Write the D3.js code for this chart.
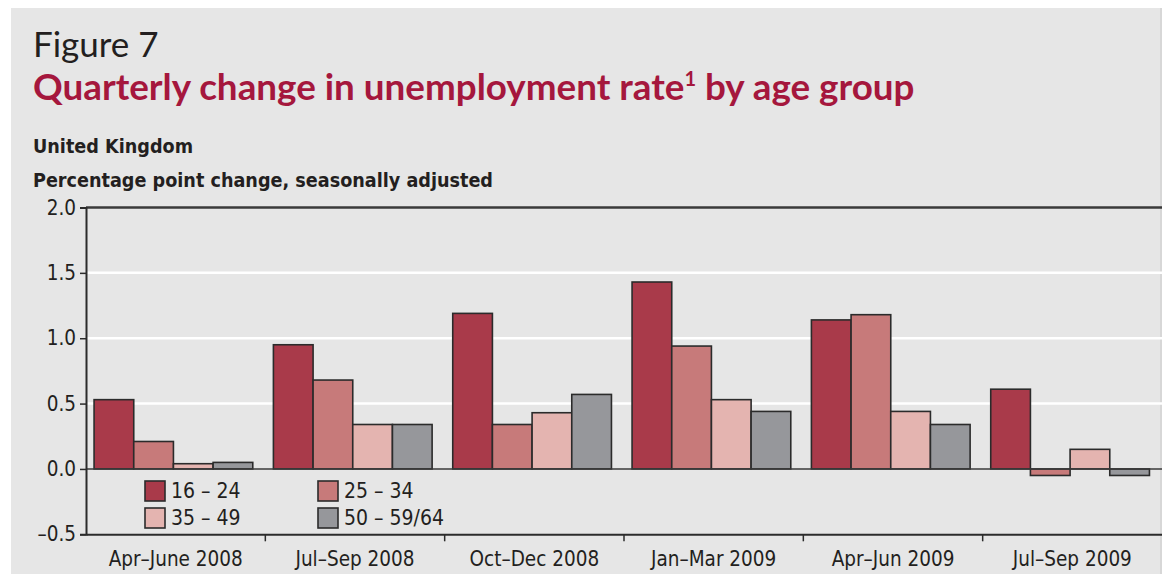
<!DOCTYPE html>
<html>
<head>
  <script src="https://d3js.org/d3.v7.min.js"></script>
  <style>
    body {
      margin: 0;
      background-color: #fff;
    }

    .cond {
      font-family: "DejaVu Sans Condensed", "DejaVu Sans", sans-serif;
      fill: #231f20;
    }

    .bar {
      stroke: #2b2b2b;
      stroke-width: 1.6px;
    }
  </style>
</head>
<body>
  <div id="chart"></div>
  <script>
    // Data
    const quarters = ["Apr\u2013June 2008", "Jul\u2013Sep 2008", "Oct\u2013Dec 2008", "Jan\u2013Mar 2009", "Apr\u2013Jun 2009", "Jul\u2013Sep 2009"];
    const ageGroups = ["16 \u2013 24", "25 \u2013 34", "35 \u2013 49", "50 \u2013 59/64"];
    const age16to24 = [0.53, 0.95, 1.19, 1.43, 1.14, 0.61];
    const age25to34 = [0.21, 0.68, 0.34, 0.94, 1.18, -0.05];
    const age35to49 = [0.04, 0.34, 0.43, 0.53, 0.44, 0.15];
    const age50to64 = [0.05, 0.34, 0.57, 0.44, 0.34, -0.05];
    const yTicks = [-0.5, 0.0, 0.5, 1.0, 1.5, 2.0];

    const seriesValues = [age16to24, age25to34, age35to49, age50to64];
    const colors = ["#a93a4a", "#c77a7a", "#e4b4b0", "#96979b"];

    // Constants
    const width = 1162;
    const height = 574;
    const plot = { left: 86, right: 1162, top: 207.5, bottom: 534.3 };

    const svg = d3.select("#chart")
      .append("svg")
      .attr("width", width)
      .attr("height", height);

    // Grey panel
    svg.append("rect")
      .attr("x", 11)
      .attr("y", 8)
      .attr("width", width - 11)
      .attr("height", height - 8)
      .attr("fill", "#e6e6e6");

    svg.append("line")
      .attr("x1", width - 1).attr("x2", width - 1)
      .attr("y1", 8).attr("y2", height)
      .attr("stroke", "#c8c8c8");

    // Headings
    svg.append("text")
      .attr("x", 33)
      .attr("y", 57)
      .style("font-family", "Lato, sans-serif")
      .style("font-size", "35px")
      .style("fill", "#231f20")
      .text("Figure 7");

    const title = svg.append("text")
      .attr("x", 33)
      .attr("y", 100)
      .style("font-family", "Lato, sans-serif")
      .style("font-weight", "bold")
      .style("font-size", "36.8px")
      .style("fill", "#a5173d");
    title.append("tspan").text("Quarterly change in unemployment rate");
    title.append("tspan")
      .attr("dy", -14)
      .style("font-size", "20px")
      .text("1");
    title.append("tspan")
      .attr("dy", 14)
      .text(" by age group");

    svg.append("text")
      .attr("class", "cond")
      .attr("x", 33)
      .attr("y", 153)
      .style("font-size", "19.6px")
      .style("font-weight", "bold")
      .text("United Kingdom");

    svg.append("text")
      .attr("class", "cond")
      .attr("x", 33)
      .attr("y", 187)
      .style("font-size", "19.6px")
      .style("font-weight", "bold")
      .text("Percentage point change, seasonally adjusted");

    // Scales
    const x0 = d3.scaleBand()
      .domain(quarters)
      .range([plot.left, plot.right]);

    const x1 = d3.scaleBand()
      .domain(ageGroups)
      .range([x0.bandwidth() * 0.045, x0.bandwidth() * 0.93]);

    const y = d3.scaleLinear()
      .domain([-0.5, 2.0])
      .range([plot.bottom, plot.top]);

    // White gridlines
    svg.append("g")
      .selectAll("line")
      .data(yTicks.filter(d => d > 0 && d < 2))
      .join("line")
      .attr("x1", plot.left)
      .attr("x2", plot.right)
      .attr("y1", d => y(d))
      .attr("y2", d => y(d))
      .attr("stroke", "#fff")
      .attr("stroke-width", 2.5);

    // Bars
    const rows = quarters.map((q, i) => ({ quarter: q, values: seriesValues.map((s, j) => ({ key: ageGroups[j], value: s[i], color: colors[j] })) }));

    svg.append("g")
      .selectAll("g")
      .data(rows)
      .join("g")
      .attr("transform", d => `translate(${x0(d.quarter)},0)`)
      .selectAll("rect")
      .data(d => d.values)
      .join("rect")
      .attr("class", "bar")
      .attr("x", d => x1(d.key))
      .attr("y", d => y(Math.max(0, d.value)))
      .attr("width", x1.bandwidth())
      .attr("height", d => Math.abs(y(d.value) - y(0)))
      .attr("fill", d => d.color);

    // Zero line
    svg.append("line")
      .attr("x1", plot.left)
      .attr("x2", plot.right)
      .attr("y1", y(0))
      .attr("y2", y(0))
      .attr("stroke", "#3a3a3a")
      .attr("stroke-width", 1.6);

    // Top frame line
    svg.append("line")
      .attr("x1", plot.left)
      .attr("x2", plot.right)
      .attr("y1", y(2))
      .attr("y2", y(2))
      .attr("stroke", "#3a3a3a")
      .attr("stroke-width", 2.5);

    // Y axis
    const yAxis = d3.axisLeft(y)
      .tickValues(yTicks)
      .tickSize(6)
      .tickPadding(4)
      .tickFormat(d => d < 0 ? "\u2013" + d3.format(".1f")(-d) : d3.format(".1f")(d));

    const yg = svg.append("g")
      .attr("transform", `translate(${plot.left},0)`)
      .call(yAxis);
    yg.select(".domain").attr("stroke", "#2b2b2b").attr("stroke-width", 2);
    yg.selectAll(".tick line").attr("stroke", "#2b2b2b").attr("stroke-width", 1.5);
    yg.selectAll("text")
      .attr("class", "cond")
      .style("font-size", "20.5px")
      .attr("font-family", null);

    // X axis
    const xAxis = d3.axisBottom(x0)
      .tickSize(0)
      .tickPadding(13);

    const xg = svg.append("g")
      .attr("transform", `translate(0,${plot.bottom})`)
      .call(xAxis);
    xg.select(".domain").attr("stroke", "#2b2b2b").attr("stroke-width", 2);
    xg.selectAll("text")
      .attr("class", "cond")
      .attr("dy", "0.9em")
      .style("font-size", "20.5px")
      .attr("font-family", null);

    // Category separators
    svg.append("g")
      .selectAll("line")
      .data(quarters.slice(1))
      .join("line")
      .attr("x1", d => x0(d))
      .attr("x2", d => x0(d))
      .attr("y1", plot.bottom)
      .attr("y2", plot.bottom + 7)
      .attr("stroke", "#2b2b2b")
      .attr("stroke-width", 1.5);

    // Legend
    const legendX = d3.scaleOrdinal().domain([0, 1]).range([145, 318]);
    const legendY = d3.scaleOrdinal().domain([0, 1]).range([481, 508]);

    const legend = svg.append("g")
      .selectAll("g")
      .data(ageGroups)
      .join("g")
      .attr("transform", (d, i) => `translate(${legendX(i % 2)},${legendY(Math.floor(i / 2))})`);

    legend.append("rect")
      .attr("class", "bar")
      .attr("width", 20)
      .attr("height", 20)
      .attr("fill", (d, i) => colors[i]);

    legend.append("text")
      .attr("class", "cond")
      .attr("x", 26)
      .attr("y", 17)
      .style("font-size", "21px")
      .text(d => d);
  </script>
</body>
</html>
